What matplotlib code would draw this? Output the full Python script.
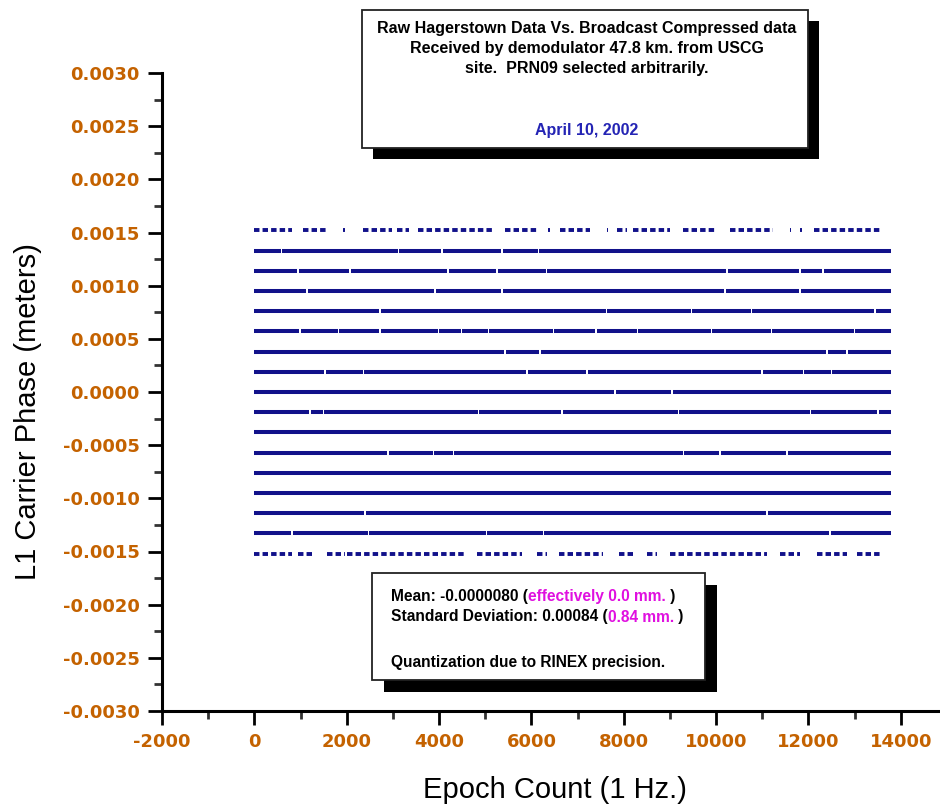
import numpy as np
import matplotlib
matplotlib.use("Agg")
import matplotlib.pyplot as plt
from matplotlib.patches import Rectangle
from matplotlib.ticker import MultipleLocator, FixedLocator

plt.rcParams['axes.unicode_minus'] = False

#==============
# DATA
#==============
# quantized carrier phase levels (meters), top to bottom
dense_levels = [0.00133, 0.00114, 0.00095, 0.00076, 0.00057, 0.00038, 0.00019, 0.0,
                -0.00019, -0.00038, -0.00057, -0.00076, -0.00095, -0.00114, -0.00133]
# epochs where each dense level shows a short break
dense_gaps = [
    [590, 3120, 4060, 5360, 6150],
    [950, 2070, 4200, 5250, 6330, 10230, 11820, 12320],
    [1135, 3910, 5360, 10195, 11820],
    [2720, 7630, 9470, 10770, 13440],
    [990, 1820, 2720, 3990, 4490, 5070, 6480, 7400, 8300, 9900, 11200, 13000],
    [5430, 6190, 12400, 12830],
    [1530, 2360, 5900, 7200, 10990, 11890, 12500],
    [7810, 9040],
    [1210, 1500, 4850, 6660, 9185, 12040, 13500],
    [],
    [2900, 3880, 4310, 9290, 10090, 11530],
    [],
    [],
    [2400, 11100],
    [810, 2470, 5030, 6260, 12470],
]
epoch_first = 0
epoch_last = 13780

# outer levels only hit occasionally: clusters of epochs
top_level = 0.00152
top_clusters = [(0, 810), (1060, 1570), (1930, 1960), (2360, 2980), (3080, 3340),
                (3550, 5210), (5430, 6150), (6370, 6400), (6620, 7270), (7630, 7660),
                (7850, 8070), (8210, 9000), (9290, 10020), (10300, 11240),
                (11600, 11630), (11820, 11850), (12110, 13550)]
bottom_level = -0.00152
bottom_clusters = [(0, 810), (950, 1240), (1570, 1970), (2000, 4560), (4820, 5790),
                   (6120, 6330), (6590, 7560), (7890, 8210), (8500, 8720),
                   (9000, 11100), (11390, 11820), (12180, 12830), (13050, 13550)]

x_ticks = [-2000, 0, 2000, 4000, 6000, 8000, 10000, 12000, 14000]
y_ticks = [-0.003, -0.0025, -0.002, -0.0015, -0.001, -0.0005, 0.0,
           0.0005, 0.001, 0.0015, 0.002, 0.0025, 0.003]

title_lines = ["Raw Hagerstown Data Vs. Broadcast Compressed data",
               "Received by demodulator 47.8 km. from USCG",
               "site.  PRN09 selected arbitrarily."]
date_text = "April 10, 2002"

W, H = 940, 811
navy = '#11118a'
orange = '#c46200'
magenta = '#e010e0'

def fx(px):
    return px / W

def fy(py):
    return 1 - py / H

fig = plt.figure(figsize=(9.4, 8.11), dpi=100)
ax = fig.add_axes([fx(162), fy(711), (947 - 162) / W, (711 - 73) / H])

gap_w = 35
for lev, gaps in zip(dense_levels, dense_gaps):
    starts = [epoch_first] + [g + gap_w / 2 for g in gaps]
    ends = [g - gap_w / 2 for g in gaps] + [epoch_last]
    ax.hlines([lev] * len(starts), starts, ends, color=navy, lw=2.9, capstyle='butt')

for lev, clusters in [(top_level, top_clusters), (bottom_level, bottom_clusters)]:
    for a, b in clusters:
        ax.plot([a, b], [lev, lev], color=navy, lw=2.8, ls=(0, (1.4, 0.8)),
                dash_capstyle='butt', solid_capstyle='butt')

ax.set_xlim(-2000, 15000)
ax.set_ylim(-0.003, 0.003)
ax.xaxis.set_major_locator(FixedLocator(x_ticks))
ax.xaxis.set_minor_locator(MultipleLocator(1000))
ax.yaxis.set_major_locator(FixedLocator(y_ticks))
ax.yaxis.set_minor_locator(MultipleLocator(0.00025))
ax.set_xticklabels([str(v) for v in x_ticks])
ax.set_yticklabels(['%.4f' % v for v in y_ticks])

for s in ['top', 'right']:
    ax.spines[s].set_visible(False)
for s in ['left', 'bottom']:
    ax.spines[s].set_linewidth(2.2)

ax.tick_params(which='major', length=10, width=2, color='black', pad=6)
ax.tick_params(which='minor', length=5.5, width=2, color='#333333')
for lab in ax.get_xticklabels() + ax.get_yticklabels():
    lab.set_family('DejaVu Sans')
    lab.set_weight('bold')
    lab.set_size(13)
    lab.set_color(orange)

fig.text(fx(28), fy(412), 'L1 Carrier Phase (meters)', rotation=90, ha='center',
         va='center', family='Liberation Sans', fontsize=21)
fig.text(fx(555), fy(790), 'Epoch Count (1 Hz.)', ha='center', va='center',
         family='Liberation Sans', fontsize=21)

# boxes with drop shadow
def shadow_box(x0, y0, x1, y1, off):
    fig.patches.append(Rectangle((fx(x0 + off), fy(y1 + off)), (x1 - x0) / W, (y1 - y0) / H,
                                 transform=fig.transFigure, facecolor='black', edgecolor='none'))
    fig.patches.append(Rectangle((fx(x0), fy(y1)), (x1 - x0) / W, (y1 - y0) / H,
                                 transform=fig.transFigure, facecolor='white',
                                 edgecolor='#222222', lw=1.3))

shadow_box(362, 10, 808, 148, 11)
shadow_box(372, 573, 705, 680, 12)

for i, line in enumerate(title_lines):
    fig.text(fx(587), fy(28 + 20 * i), line, ha='center', va='center',
             family='Liberation Sans', weight='bold', fontsize=11.5)
fig.text(fx(587), fy(131), date_text, ha='center', va='center', color='#2424b4',
         family='Liberation Sans', weight='bold', fontsize=11.5)

fig.canvas.draw()
rend = fig.canvas.get_renderer()

def rich_line(x0, y0, parts):
    x = fx(x0)
    for s, c in parts:
        t = fig.text(x, fy(y0), s, color=c, ha='left', va='center',
                     family='Liberation Sans', weight='bold', fontsize=11.2)
        x += t.get_window_extent(rend).width / W

rich_line(391, 597, [("Mean: -0.0000080 (", 'black'), ("effectively 0.0 mm.", magenta), (" )", 'black')])
rich_line(391, 617, [("Standard Deviation: 0.00084 (", 'black'), ("0.84 mm.", magenta), (" )", 'black')])
rich_line(391, 662, [("Quantization due to RINEX precision.", 'black')])

fig.savefig('out.png', dpi=100)
